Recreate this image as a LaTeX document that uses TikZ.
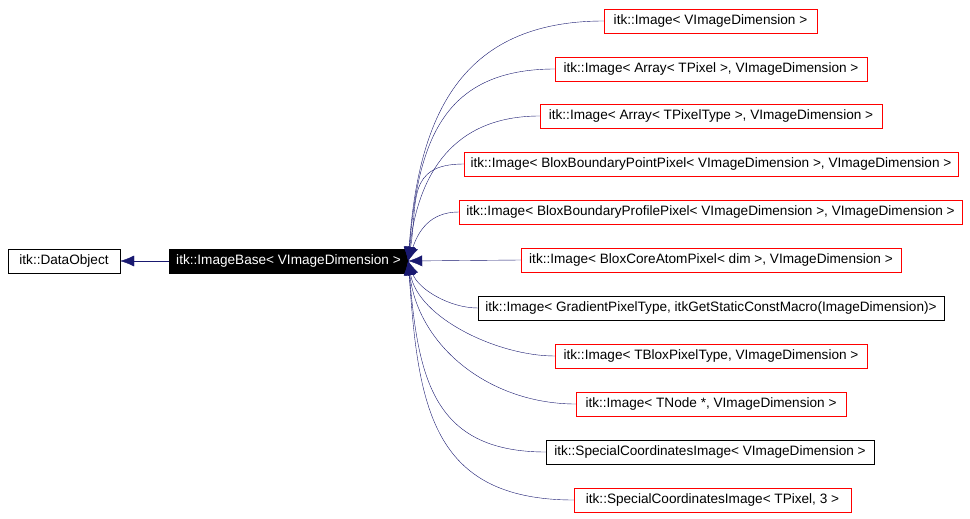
\documentclass[tikz,border=0pt]{standalone}
\usepackage{fontspec}
\setmainfont{Liberation Sans}
\usetikzlibrary{arrows.meta}
\begin{document}
\begin{tikzpicture}[x=1pt,y=-1pt,
  cls/.style={draw=red,fill=white,minimum height=24pt,inner sep=0pt,font=\fontsize{13.6}{15}\selectfont},
  clsb/.style={cls,draw=black},
  edge/.style={draw={rgb,255:red,25;green,25;blue,112},-{Latex[length=14pt,width=11pt]}}]
\useasboundingbox (0,0) rectangle (970,519);
\node[clsb,minimum width=112pt] (d) at (64,261) {itk::DataObject};
\node[draw=black,fill=black,text=white,minimum width=239pt,minimum height=24pt,inner sep=0pt,font=\fontsize{13.6}{15}\selectfont] (b) at (288.5,261) {itk::ImageBase< VImageDimension >};
\node[cls,minimum width=213pt] (c1) at (710.5,21) {itk::Image< VImageDimension >};
\node[cls,minimum width=312pt] (c2) at (711,69) {itk::Image< Array< TPixel >, VImageDimension >};
\node[cls,minimum width=342pt] (c3) at (711,116) {itk::Image< Array< TPixelType >, VImageDimension >};
\node[cls,minimum width=494pt] (c4) at (711,164) {itk::Image< BloxBoundaryPointPixel< VImageDimension >, VImageDimension >};
\node[cls,minimum width=503pt] (c5) at (710.5,212) {itk::Image< BloxBoundaryProfilePixel< VImageDimension >, VImageDimension >};
\node[cls,minimum width=380pt] (c6) at (711,260) {itk::Image< BloxCoreAtomPixel< dim >, VImageDimension >};
\node[clsb,minimum width=466pt] (c7) at (711,308) {itk::Image< GradientPixelType, itkGetStaticConstMacro(ImageDimension)>};
\node[cls,minimum width=312pt] (c8) at (711,356) {itk::Image< TBloxPixelType, VImageDimension >};
\node[cls,minimum width=270pt] (c9) at (711,404) {itk::Image< TNode *, VImageDimension >};
\node[clsb,minimum width=328pt] (c10) at (710,452) {itk::SpecialCoordinatesImage< VImageDimension >};
\node[cls,minimum width=277pt] (c11) at (712.5,500) {itk::SpecialCoordinatesImage< TPixel, 3 >};
\draw[edge] (b) -- (d);
\draw[edge] (c6.west) -- (b.east);
\foreach \n/\dy in {c1/240,c2/192,c3/145,c4/97,c5/49,c7/-47,c8/-95,c9/-143,c10/-191,c11/-239}{
  \pgfmathsetmacro\h{0.6*abs(\dy)}
  \draw[edge] (\n.west) .. controls +(-\h,0) and +(10,-0.6*\dy) .. (b.east);}
\end{tikzpicture}
\end{document}
